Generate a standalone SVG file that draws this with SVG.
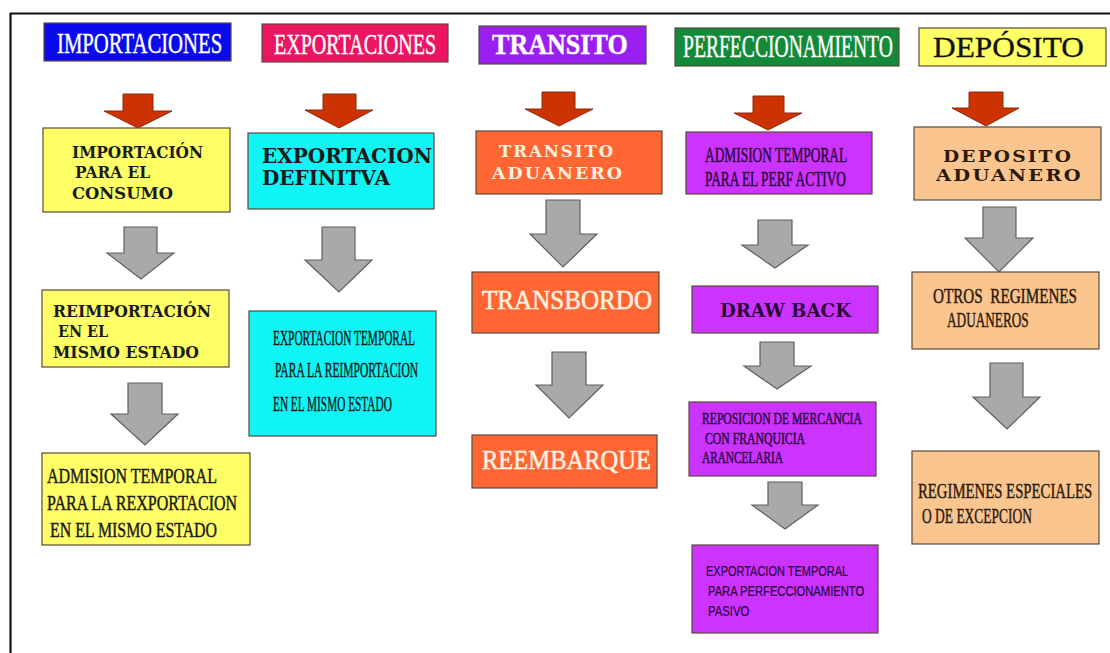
<svg xmlns="http://www.w3.org/2000/svg" width="1110" height="653" viewBox="0 0 1110 653">
<style>
.bx{stroke:#5a4a3a;stroke-width:1.2}
.red{fill:#cc3300;stroke:#8a2a10;stroke-width:1}
.gray{fill:#a9a9a9;stroke:#5f5f5f;stroke-width:1.2}
.hd{font-family:"Liberation Serif","Times New Roman",serif;fill:#ffffff;stroke:#ffffff;stroke-width:0.4}
.sf{font-family:"Liberation Serif","Times New Roman",serif}
.cn{stroke-width:0.45}
.wd{font-family:"DejaVu Serif","Liberation Serif",serif;font-weight:bold}
.ss{font-family:"Liberation Sans",Arial,sans-serif}
.dk{fill:#1a1a1a;stroke:#1a1a1a}
.pp{fill:#2a0838;stroke:#2a0838}
.br{fill:#2a1a0c;stroke:#2a1a0c}
.wt{fill:#fff2e2;stroke:#fff2e2}
.wd,.ns{stroke-width:0}
.yl{fill:#ffff66}
.cy{fill:#0ff5f5}
.or{fill:#ff6633}
.pu{fill:#cc33ff}
.pe{fill:#fbc590}
</style>
<rect x="0" y="0" width="1110" height="653" fill="#ffffff"/>
<g id="frame" stroke="#111" stroke-width="2.2" fill="none">
<line x1="10" y1="13.5" x2="1110" y2="13.5"/>
<line x1="10.5" y1="13" x2="10.5" y2="653"/>
</g>

<g id="connectors">
<polygon class="red" points="123,94 153,94 153,111 172,111 138,128 104,111 123,111"/>
<polygon class="red" points="323,94 356,94 356,110 373,110 339,128 305,110 323,110"/>
<polygon class="red" points="542,92 575,92 575,109 593,109 559,126 525,109 542,109"/>
<polygon class="red" points="753,96 784,96 784,113 802,113 768,130 734,113 753,113"/>
<polygon class="red" points="969,92 1003,92 1003,108 1019,108 986,126 952,108 969,108"/>

<polygon class="gray" points="124,227 157,227 157,253 174,253 141,279 107,253 124,253"/>
<polygon class="gray" points="128,383 162,383 162,414 178,414 145,445 111,414 128,414"/>
<polygon class="gray" points="322,227 355,227 355,260 372,260 339,292 305,260 322,260"/>
<polygon class="gray" points="546,200 580,200 580,234 597,234 563,267 530,234 546,234"/>
<polygon class="gray" points="552,352 586,352 586,385 603,385 569,418 536,385 552,385"/>
<polygon class="gray" points="758,220 792,220 792,245 808,245 775,268 742,245 758,245"/>
<polygon class="gray" points="760,342 794,342 794,366 811,366 777,389 744,366 760,366"/>
<polygon class="gray" points="768,482 802,482 802,505 818,505 785,529 752,505 768,505"/>
<polygon class="gray" points="983,207 1016,207 1016,238 1033,238 999,272 965,238 983,238"/>
<polygon class="gray" points="990,363 1023,363 1023,397 1040,397 1007,429 973,397 990,397"/>
</g>

<g id="h-importaciones">
<rect class="bx" x="44" y="23" width="187" height="38" fill="#0a0aee"/>
<text class="hd" transform="translate(57,53) scale(0.68,1)" font-size="30" textLength="243" lengthAdjust="spacingAndGlyphs">IMPORTACIONES</text>
</g>
<g id="h-exportaciones">
<rect class="bx" x="262" y="24" width="186" height="38" fill="#ec1561"/>
<text class="hd" transform="translate(274,54) scale(0.656,1)" font-size="30" textLength="247" lengthAdjust="spacingAndGlyphs">EXPORTACIONES</text>
</g>
<g id="h-transito">
<rect class="bx" x="479" y="26" width="167" height="38" fill="#9a1ff0"/>
<text class="hd" font-weight="bold" stroke-width="0" transform="translate(492,54) scale(0.87,1)" font-size="30" textLength="156" lengthAdjust="spacingAndGlyphs">TRANSITO</text>
</g>
<g id="h-perfeccionamiento">
<rect class="bx" x="675" y="28" width="224" height="38" fill="#128a3a"/>
<text class="hd" transform="translate(683,57) scale(0.61,1)" font-size="32" textLength="344" lengthAdjust="spacingAndGlyphs">PERFECCIONAMIENTO</text>
</g>
<g id="h-deposito">
<rect class="bx" x="919" y="28" width="187" height="38" fill="#ffff66"/>
<text class="sf" x="933" y="57" font-size="30" fill="#111" stroke="#111" stroke-width="0.3" textLength="151" lengthAdjust="spacingAndGlyphs">DEPÓSITO</text>
</g>

<g id="n-importacion-consumo">
<rect class="bx yl" x="43" y="128" width="187" height="84"/>
<text class="wd dk" x="72" y="158" font-size="16" textLength="131" lengthAdjust="spacingAndGlyphs">IMPORTACIÓN</text>
<text class="wd dk" x="75" y="178" font-size="16" textLength="75" lengthAdjust="spacingAndGlyphs">PARA EL</text>
<text class="wd dk" x="72" y="199" font-size="16" textLength="101" lengthAdjust="spacingAndGlyphs">CONSUMO</text>
</g>
<g id="n-reimportacion">
<rect class="bx yl" x="42" y="290" width="187" height="77"/>
<text class="wd dk" x="53" y="317" font-size="16" textLength="158" lengthAdjust="spacingAndGlyphs">REIMPORTACIÓN</text>
<text class="wd dk" x="58" y="337" font-size="16" textLength="50" lengthAdjust="spacingAndGlyphs">EN EL</text>
<text class="wd dk" x="53" y="358" font-size="16" textLength="146" lengthAdjust="spacingAndGlyphs">MISMO ESTADO</text>
</g>
<g id="n-admision-rexportacion">
<rect class="bx yl" x="42" y="453" width="208" height="92"/>
<text class="sf cn dk" transform="translate(47,483) scale(0.72,1)" font-size="22" textLength="236" lengthAdjust="spacingAndGlyphs">ADMISION TEMPORAL</text>
<text class="sf cn dk" transform="translate(47,510) scale(0.72,1)" font-size="22" textLength="264" lengthAdjust="spacingAndGlyphs">PARA LA REXPORTACION</text>
<text class="sf cn dk" transform="translate(50,537) scale(0.72,1)" font-size="22" textLength="232" lengthAdjust="spacingAndGlyphs">EN EL MISMO ESTADO</text>
</g>

<g id="n-exportacion-definitiva">
<rect class="bx cy" x="248" y="133" width="186" height="76"/>
<text class="wd dk" x="262" y="163" font-size="20" textLength="170" lengthAdjust="spacingAndGlyphs">EXPORTACION</text>
<text class="wd dk" x="262" y="185" font-size="20" textLength="128" lengthAdjust="spacingAndGlyphs">DEFINITVA</text>
</g>
<g id="n-exportacion-temporal">
<rect class="bx cy" x="249" y="311" width="187" height="125"/>
<text class="sf cn dk" transform="translate(273,345) scale(0.54,1)" font-size="22" textLength="263" lengthAdjust="spacingAndGlyphs">EXPORTACION TEMPORAL</text>
<text class="sf cn dk" transform="translate(275,377) scale(0.54,1)" font-size="22" textLength="265" lengthAdjust="spacingAndGlyphs">PARA LA REIMPORTACION</text>
<text class="sf cn dk" transform="translate(273,411) scale(0.54,1)" font-size="22" textLength="220" lengthAdjust="spacingAndGlyphs">EN EL MISMO ESTADO</text>
</g>

<g id="n-transito-aduanero">
<rect class="bx or" x="476" y="131" width="186" height="63"/>
<text class="wd wt" x="499" y="157" font-size="17" letter-spacing="2" textLength="116" lengthAdjust="spacingAndGlyphs">TRANSITO</text>
<text class="wd wt" x="492" y="179" font-size="17" letter-spacing="2" textLength="132" lengthAdjust="spacingAndGlyphs">ADUANERO</text>
</g>
<g id="n-transbordo">
<rect class="bx or" x="472" y="272" width="187" height="61"/>
<text class="sf wt" x="482" y="309" font-size="27" stroke-width="0.5" textLength="170" lengthAdjust="spacingAndGlyphs">TRANSBORDO</text>
</g>
<g id="n-reembarque">
<rect class="bx or" x="472" y="435" width="185" height="53"/>
<text class="sf wt" x="482" y="469" font-size="27" stroke-width="0.5" textLength="169" lengthAdjust="spacingAndGlyphs">REEMBARQUE</text>
</g>

<g id="n-admision-perf-activo">
<rect class="bx pu" x="686" y="132" width="186" height="62"/>
<text class="sf cn pp" transform="translate(705,162) scale(0.6,1)" font-size="22" textLength="237" lengthAdjust="spacingAndGlyphs">ADMISION TEMPORAL</text>
<text class="sf cn pp" transform="translate(705,186) scale(0.6,1)" font-size="22" textLength="235" lengthAdjust="spacingAndGlyphs">PARA EL PERF ACTIVO</text>
</g>
<g id="n-draw-back">
<rect class="bx pu" x="692" y="286" width="186" height="47"/>
<text class="wd pp" x="720" y="317" font-size="18" textLength="131" lengthAdjust="spacingAndGlyphs">DRAW BACK</text>
</g>
<g id="n-reposicion">
<rect class="bx pu" x="689" y="402" width="187" height="74"/>
<text class="sf cn pp" transform="translate(702,424) scale(0.73,1)" font-size="16" textLength="219" lengthAdjust="spacingAndGlyphs">REPOSICION DE MERCANCIA</text>
<text class="sf cn pp" transform="translate(705,444) scale(0.73,1)" font-size="16" textLength="137" lengthAdjust="spacingAndGlyphs">CON FRANQUICIA</text>
<text class="sf cn pp" transform="translate(702,463) scale(0.73,1)" font-size="16" textLength="111" lengthAdjust="spacingAndGlyphs">ARANCELARIA</text>
</g>
<g id="n-exportacion-pasivo">
<rect class="bx pu" x="692" y="545" width="186" height="88"/>
<text class="ss pp" stroke-width="0.2" transform="translate(706,576) scale(0.7,1)" font-size="15" textLength="203" lengthAdjust="spacingAndGlyphs">EXPORTACION TEMPORAL</text>
<text class="ss pp" stroke-width="0.2" transform="translate(708,596) scale(0.7,1)" font-size="15" textLength="223" lengthAdjust="spacingAndGlyphs">PARA PERFECCIONAMIENTO</text>
<text class="ss pp" stroke-width="0.2" transform="translate(708,616) scale(0.7,1)" font-size="15" textLength="59" lengthAdjust="spacingAndGlyphs">PASIVO</text>
</g>

<g id="n-deposito-aduanero">
<rect class="bx pe" x="914" y="127" width="187" height="73"/>
<text class="wd br" x="943" y="162" font-size="17" letter-spacing="2" textLength="130" lengthAdjust="spacingAndGlyphs">DEPOSITO</text>
<text class="wd br" x="936" y="181" font-size="17" letter-spacing="2" textLength="147" lengthAdjust="spacingAndGlyphs">ADUANERO</text>
</g>
<g id="n-otros-regimenes">
<rect class="bx pe" x="912" y="272" width="187" height="77"/>
<text class="sf cn br" transform="translate(933,303) scale(0.67,1)" font-size="22" textLength="215" lengthAdjust="spacingAndGlyphs" xml:space="preserve">OTROS  REGIMENES</text>
<text class="sf cn br" transform="translate(947,327) scale(0.67,1)" font-size="22" textLength="122" lengthAdjust="spacingAndGlyphs">ADUANEROS</text>
</g>
<g id="n-regimenes-especiales">
<rect class="bx pe" x="912" y="451" width="187" height="93"/>
<text class="sf cn br" transform="translate(918,498) scale(0.67,1)" font-size="22" textLength="260" lengthAdjust="spacingAndGlyphs">REGIMENES ESPECIALES</text>
<text class="sf cn br" transform="translate(922,523) scale(0.67,1)" font-size="22" textLength="164" lengthAdjust="spacingAndGlyphs">O DE EXCEPCION</text>
</g>
</svg>
